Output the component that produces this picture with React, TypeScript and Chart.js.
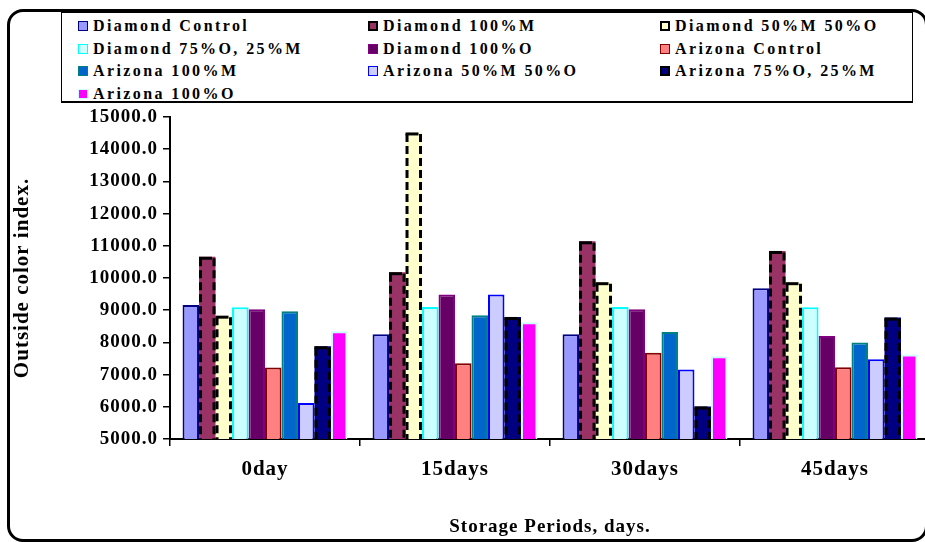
import React, { useEffect, useRef } from "react";
import { Chart, registerables } from "chart.js";

Chart.register(...registerables);

// ---- data ----
const categories = ["0day", "15days", "30days", "45days"];

const seriesNames = [
  "Diamond Control",
  "Diamond 100%M",
  "Diamond 50%M 50%O",
  "Diamond 75%O, 25%M",
  "Diamond 100%O",
  "Arizona Control",
  "Arizona 100%M",
  "Arizona 50%M 50%O",
  "Arizona 75%O, 25%M",
  "Arizona 100%O",
];

const diamondControl = [9160, 8250, 8250, 9680];
const diamond100M = [10660, 10180, 11140, 10840];
const diamond50M50O = [8830, 14520, 9870, 9870];
const diamond75O25M = [9090, 9100, 9100, 9095];
const diamond100O = [9030, 9490, 9030, 8200];
const arizonaControl = [7220, 7350, 7680, 7230];
const arizona100M = [8970, 8840, 8320, 8000];
const arizona50M50O = [6120, 9490, 7160, 7480];
const arizona75O25M = [7880, 8790, 6010, 8770];
const arizona100O = [8350, 8625, 7570, 7625];

const seriesValues = [
  diamondControl,
  diamond100M,
  diamond50M50O,
  diamond75O25M,
  diamond100O,
  arizonaControl,
  arizona100M,
  arizona50M50O,
  arizona75O25M,
  arizona100O,
];

const yTicksMin = 5000;
const yTicksMax = 15000;
const yTickStep = 1000;

// ---- styles ----
const fills = [
  "#9999FF",
  "#993366",
  "#FFFFCC",
  "#CCFFFF",
  "#660066",
  "#FF8080",
  "#0066CC",
  "#CCCCFF",
  "#000080",
  "#FF00FF",
];
const borders = [
  "#000080",
  "#000000",
  "#000000",
  "#00FFFF",
  "#800080",
  "#800000",
  "#008080",
  "#0000FF",
  "#000000",
  "#CCFFFF",
];
const dashed = [false, true, true, false, false, false, false, false, true, false];

const FONT = "'Liberation Serif', 'Times New Roman', serif";

const spacingPlugin = {
  id: "letterSpacing",
  beforeDraw(chart: any) {
    (chart.ctx as any).letterSpacing = "1px";
  },
  afterDraw(chart: any) {
    (chart.ctx as any).letterSpacing = "0px";
  },
};

const dashPlugin = {
  id: "dashBorders",
  afterDatasetsDraw(chart: any) {
    const ctx = chart.ctx;
    const bottom = chart.chartArea.bottom;
    chart.data.datasets.forEach((ds: any, i: number) => {
      if (!ds.dashedBorder) return;
      const meta = chart.getDatasetMeta(i);
      meta.data.forEach((el: any) => {
        const { x, y, base, width } = el.getProps(["x", "y", "base", "width"], true);
        const b = Math.min(base, bottom);
        const l = x - width / 2 + 1.5;
        const r = x + width / 2 - 1.5;
        ctx.save();
        ctx.strokeStyle = "#000";
        ctx.lineWidth = 3;
        ctx.setLineDash([]);
        ctx.beginPath();
        ctx.moveTo(l - 1.5, y + 1.5);
        ctx.lineTo(r - 2, y + 1.5);
        ctx.stroke();
        ctx.setLineDash([8, 4]);
        ctx.beginPath();
        ctx.moveTo(l, y + 1.5);
        ctx.lineTo(l, b);
        ctx.moveTo(r, y + 1.5);
        ctx.lineTo(r, b);
        ctx.stroke();
        ctx.restore();
      });
    });
  },
};

function ChartCanvas() {
  const ref = useRef<HTMLCanvasElement | null>(null);
  useEffect(() => {
    if (!ref.current) return;
    const yTickFont = { family: FONT, size: 19, weight: "bold" as const };
    const xTickFont = { family: FONT, size: 21, weight: "bold" as const };
    const yTitleFont = { family: FONT, size: 21, weight: "bold" as const };
    const xTitleFont = { family: FONT, size: 19, weight: "bold" as const };
    const chart = new Chart(ref.current, {
      type: "bar",
      data: {
        labels: categories,
        datasets: seriesNames.map((name, i) => ({
          label: name,
          data: seriesValues[i],
          backgroundColor: fills[i],
          borderColor: dashed[i] ? fills[i] : borders[i],
          borderWidth: dashed[i] ? 0 : 2,
          borderSkipped: "bottom",
          categoryPercentage: 0.868,
          barPercentage: 1.0,
          dashedBorder: dashed[i],
        })) as any,
      },
      options: {
        responsive: false,
        animation: false,
        devicePixelRatio: 1,
        layout: { padding: { top: 117, left: 0, right: 10, bottom: 0 } },
        plugins: {
          legend: { display: false },
          tooltip: { enabled: false },
        },
        scales: {
          x: {
            offset: true,
            grid: {
              offset: true,
              drawOnChartArea: false,
              drawTicks: true,
              tickLength: 7,
              color: "#000",
              lineWidth: 1.5,
            },
            border: { display: true, color: "#000", width: 2 },
            ticks: { color: "#000", font: xTickFont, padding: 11 },
            title: {
              display: true,
              text: "Storage Periods, days.",
              color: "#000",
              font: xTitleFont,
              padding: { top: 0, bottom: 4 },
            },
            afterFit: (s: any) => {
              s.height = 103;
            },
          },
          y: {
            min: yTicksMin,
            max: yTicksMax,
            grid: {
              drawOnChartArea: false,
              drawTicks: true,
              tickLength: 7,
              color: "#000",
              lineWidth: 1.5,
            },
            border: { display: true, color: "#000", width: 2 },
            ticks: {
              stepSize: yTickStep,
              autoSkip: false,
              color: "#000",
              font: yTickFont,
              padding: 5,
              callback: (v: any) => Number(v).toFixed(1),
            },
            title: {
              display: true,
              text: "Outside color index.",
              color: "#000",
              font: yTitleFont,
              padding: { top: 10, bottom: 0 },
            },
            afterFit: (s: any) => {
              s.width = 170;
            },
          },
        },
      },
      plugins: [spacingPlugin, dashPlugin],
    });
    return () => chart.destroy();
  }, []);
  return (
    <canvas
      ref={ref}
      width={940}
      height={542}
      style={{ position: "absolute", left: 0, top: 0, width: 940, height: 542 }}
    />
  );
}

function Legend() {
  const colLeft = [78, 368, 660];
  const rowCenter = [26, 48.5, 71, 93.5];
  return (
    <>
      <div
        style={{
          position: "absolute",
          left: 61,
          top: 12,
          width: 852,
          height: 91,
          border: "1.5px solid #000",
          borderBottomWidth: 2,
          boxSizing: "border-box",
          background: "#fff",
        }}
      />
      {seriesNames.map((name, i) => {
        const col = i % 3;
        const row = Math.floor(i / 3);
        return (
          <div
            key={name}
            style={{
              position: "absolute",
              left: colLeft[col],
              top: rowCenter[row] - 11,
              height: 22,
              display: "flex",
              alignItems: "center",
              whiteSpace: "nowrap",
            }}
          >
            <span
              style={{
                display: "inline-block",
                width: 10,
                height: 10,
                boxSizing: "border-box",
                background: fills[i],
                border: dashed[i] ? "2px dashed #000" : `1.5px solid ${borders[i]}`,
                marginRight: 5,
              }}
            />
            <span
              style={{
                fontFamily: FONT,
                fontWeight: "bold",
                fontSize: 16,
                letterSpacing: 2.4,
                color: "#000",
                lineHeight: "22px",
              }}
            >
              {name}
            </span>
          </div>
        );
      })}
    </>
  );
}

export default function App() {
  return (
    <div
      style={{
        position: "fixed",
        left: 0,
        top: 0,
        width: 925,
        height: 542,
        overflow: "hidden",
        background: "#fff",
      }}
    >
      <ChartCanvas />
      <div
        style={{
          position: "absolute",
          left: 7,
          top: 9,
          width: 921,
          height: 533,
          border: "3px solid #000",
          borderRadius: 16,
          boxSizing: "border-box",
          pointerEvents: "none",
        }}
      />
      <Legend />
    </div>
  );
}
